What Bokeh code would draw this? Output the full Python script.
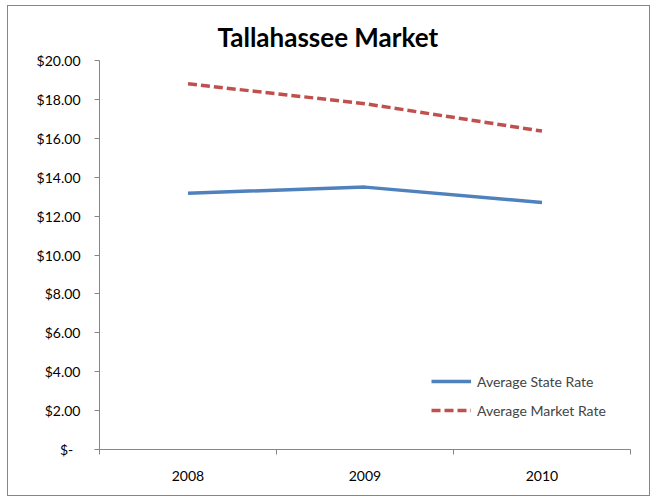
from bokeh.plotting import figure
from bokeh.models import FixedTicker, Range1d, Legend, LegendItem, ColumnDataSource
from bokeh.embed import file_html
from bokeh.resources import INLINE

years = ["2008", "2009", "2010"]
state_rate = [13.18, 13.49, 12.70]
market_rate = [18.80, 17.78, 16.37]
y_ticks = [0, 2, 4, 6, 8, 10, 12, 14, 16, 18, 20]
y_labels = ["$-\u00a0\u00a0", "$2.00", "$4.00", "$6.00", "$8.00", "$10.00", "$12.00",
            "$14.00", "$16.00", "$18.00", "$20.00"]

xpos = [i + 0.5 for i in range(len(years))]
src = ColumnDataSource(dict(x=xpos, state=state_rate, market=market_rate))

gray = "#868686"
p = figure(width=643, height=491, output_backend="svg", toolbar_location=None,
           x_range=Range1d(0, len(years)), y_range=Range1d(0, 20),
           min_border_left=91, min_border_right=21, min_border_top=54, min_border_bottom=48)
p.margin = (5, 0, 0, 7)
p.styles = {"border": "1px solid " + gray, "box-sizing": "border-box"}
p.outline_line_color = None
p.border_fill_color = "white"
p.background_fill_color = "white"
p.xgrid.grid_line_color = None
p.ygrid.grid_line_color = None

FONT = "Lato"
p.title.text = "Tallahassee Market"
p.title.text_font = FONT
p.title.text_font_size = "26px"
p.title.text_font_style = "bold"
p.title.text_color = "black"
p.title.align = "left"
p.title.offset = 118
p.title.standoff = 16

ya = p.yaxis[0]
ya.ticker = FixedTicker(ticks=y_ticks)
ya.major_label_overrides = {t: l for t, l in zip(y_ticks, y_labels)}
ya.axis_line_color = gray
ya.major_tick_line_color = gray
ya.major_tick_in = 0
ya.major_tick_out = 5
ya.minor_tick_line_color = None
ya.major_label_text_font = FONT
ya.major_label_text_font_size = "14px"
ya.major_label_text_color = "black"
ya.major_label_standoff = 14

xa = p.xaxis[0]
xa.ticker = FixedTicker(ticks=xpos, minor_ticks=list(range(len(years) + 1)))
xa.major_label_overrides = {x: y for x, y in zip(xpos, years)}
xa.axis_line_color = gray
xa.major_tick_line_color = None
xa.minor_tick_line_color = gray
xa.minor_tick_in = 0
xa.minor_tick_out = 5
xa.major_label_text_font = FONT
xa.major_label_text_font_size = "14px"
xa.major_label_text_color = "black"
xa.major_label_standoff = 15

r1 = p.line("x", "state", source=src, line_color="#4F81BD", line_width=3.5)
r2 = p.line("x", "market", source=src, line_color="#C0504D", line_width=3.5, line_dash="9 4")

legend = Legend(items=[LegendItem(label="Average State Rate", renderers=[r1]),
                       LegendItem(label="Average Market Rate", renderers=[r2])],
                location=(332, 29))
legend.border_line_color = None
legend.background_fill_alpha = 0
legend.padding = 0
legend.margin = 0
legend.spacing = 9
legend.glyph_width = 40
legend.glyph_height = 20
legend.label_height = 20
legend.label_standoff = 6
legend.label_text_font = FONT
legend.label_text_font_size = "14px"
p.add_layout(legend, "center")

open("out.html", "w").write(file_html(p, INLINE))
